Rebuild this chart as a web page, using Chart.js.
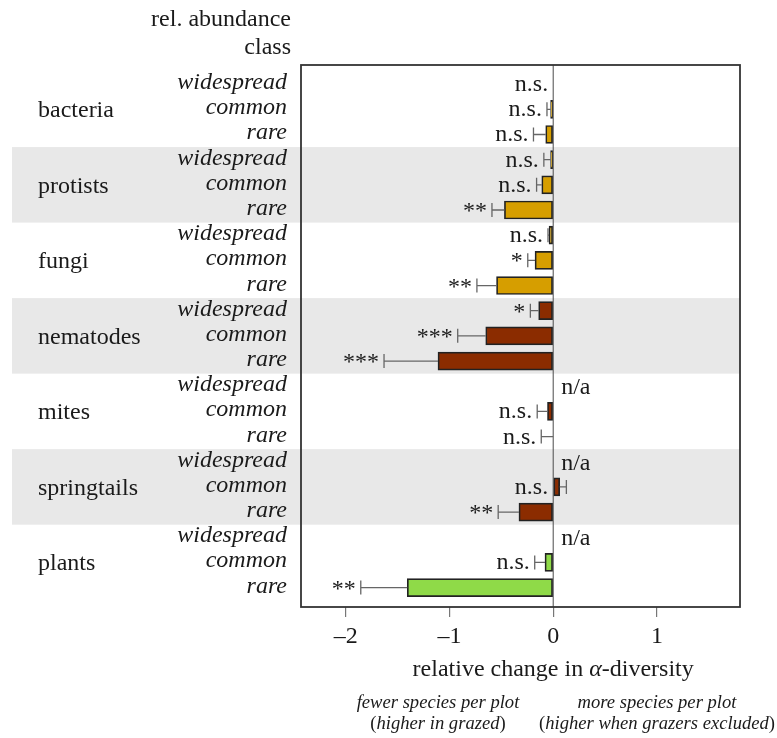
<!DOCTYPE html>
<html>
<head>
<meta charset="utf-8">
<script src="https://cdn.jsdelivr.net/npm/chart.js@4"></script>
<style>
  html, body { margin: 0; padding: 0; background: #fff; }
  canvas { display: block; }
</style>
</head>
<body>
<canvas id="chart" width="777" height="738"></canvas>
<script>
// группы организмов и классы обилия
const groups = ['bacteria', 'protists', 'fungi', 'nematodes', 'mites', 'springtails', 'plants'];
const classes = ['widespread', 'common', 'rare'];

// относительное изменение альфа-разнообразия (по строкам: группа x класс)
const effect = [0, -0.025, -0.072,
                -0.025, -0.11, -0.47,
                -0.04, -0.175, -0.546,
                -0.14, -0.65, -1.11,
                null, -0.055, 0,
                null, 0.0625, -0.33,
                null, -0.079, -1.406];
// конец планки погрешности
const errEnd = [null, -0.06, -0.19,
                -0.09, -0.16, -0.59,
                -0.05, -0.245, -0.735,
                -0.22, -0.92, -1.63,
                null, -0.154, -0.115,
                null, 0.127, -0.53,
                null, -0.178, -1.854];
const signif = ['n.s.', 'n.s.', 'n.s.',
                'n.s.', 'n.s.', '**',
                'n.s.', '*', '**',
                '*', '***', '***',
                'n/a', 'n.s.', 'n.s.',
                'n/a', 'n.s.', '**',
                'n/a', 'n.s.', '**'];
const groupColors = ['#d69e00', '#d69e00', '#d69e00', '#8b2c00', '#8b2c00', '#8b2c00', '#8fda48'];
const xTicks = [-2, -1, 0, 1];

const SERIF = '"Liberation Serif", "Times New Roman", serif';
const rows = effect.map((v, i) => ({ x: v, y: i }));
const rowColors = effect.map((v, i) => groupColors[Math.floor(i / 3)]);

function drawText(ctx, txt, x, y, font, align) {
    ctx.font = font;
    ctx.textAlign = align || 'left';
    ctx.textBaseline = 'alphabetic';
    ctx.fillText(txt, x, y);
}

// серые полосы, рамка, подписи и планки погрешностей
const decor = {
    id: 'decor',
    beforeDatasetsDraw(chart) {
        const ctx = chart.ctx, a = chart.chartArea;
        const xs = chart.scales.x, ys = chart.scales.y;
        ctx.save();
        ctx.fillStyle = '#e8e8e8';
        [1, 3, 5].forEach(g => {
            const top = ys.getPixelForValue(g * 3 - 0.5);
            const bot = ys.getPixelForValue(g * 3 + 2.5);
            ctx.fillRect(12, top, a.right - 12, bot - top);
        });
        // нулевая линия
        const x0 = xs.getPixelForValue(0);
        ctx.strokeStyle = '#4a4a4a';
        ctx.lineWidth = 1;
        ctx.beginPath();
        ctx.moveTo(x0, a.top);
        ctx.lineTo(x0, a.bottom);
        ctx.stroke();
        ctx.restore();
    },
    afterDatasetsDraw(chart) {
        const ctx = chart.ctx, a = chart.chartArea;
        const xs = chart.scales.x, ys = chart.scales.y;
        ctx.save();
        // планки погрешностей
        ctx.strokeStyle = '#666';
        ctx.lineWidth = 1.3;
        effect.forEach((v, i) => {
            if (v === null || errEnd[i] === null) return;
            const y = ys.getPixelForValue(i);
            const xb = xs.getPixelForValue(v), xe = xs.getPixelForValue(errEnd[i]);
            ctx.beginPath();
            ctx.moveTo(xb, y);
            ctx.lineTo(xe, y);
            ctx.moveTo(xe, y - 7);
            ctx.lineTo(xe, y + 7);
            ctx.stroke();
        });
        // значимость
        ctx.fillStyle = '#1a1a1a';
        signif.forEach((s, i) => {
            const y = ys.getPixelForValue(i);
            if (s === 'n/a') {
                drawText(ctx, s, xs.getPixelForValue(0) + 8, y + 8, '24px ' + SERIF, 'left');
                return;
            }
            const ends = [0];
            if (effect[i] !== null) ends.push(effect[i]);
            if (errEnd[i] !== null) ends.push(errEnd[i]);
            const xl = xs.getPixelForValue(Math.min(...ends)) - 5;
            const dy = s.startsWith('*') ? 8 : 7;
            drawText(ctx, s, xl, y + dy, '24px ' + SERIF, 'right');
        });
        // рамка
        ctx.strokeStyle = '#333';
        ctx.lineWidth = 1.8;
        ctx.strokeRect(a.left, a.top, a.right - a.left, a.bottom - a.top);
        ctx.restore();
    },
    afterDraw(chart) {
        const ctx = chart.ctx;
        const xs = chart.scales.x, ys = chart.scales.y;
        ctx.save();
        ctx.fillStyle = '#1a1a1a';
        drawText(ctx, 'rel. abundance', 291, 26, '24px ' + SERIF, 'right');
        drawText(ctx, 'class', 291, 54, '24px ' + SERIF, 'right');
        groups.forEach((g, gi) => {
            drawText(ctx, g, 38, ys.getPixelForValue(gi * 3 + 1) + 8, '24px ' + SERIF, 'left');
            classes.forEach((c, ci) => {
                drawText(ctx, c, 287, ys.getPixelForValue(gi * 3 + ci) + 5, 'italic 24px ' + SERIF, 'right');
            });
        });

        // подпись оси: "relative change in α-diversity"
        const cx = xs.getPixelForValue(0);
        const p1 = 'relative change in ', p2 = '\u03b1', p3 = '-diversity';
        ctx.font = '24px ' + SERIF;
        const w1 = ctx.measureText(p1).width, w3 = ctx.measureText(p3).width;
        ctx.font = 'italic 24px ' + SERIF;
        const w2 = ctx.measureText(p2).width;
        let x = cx - (w1 + w2 + w3) / 2;
        drawText(ctx, p1, x, 676, '24px ' + SERIF); x += w1;
        drawText(ctx, p2, x, 676, 'italic 24px ' + SERIF); x += w2;
        drawText(ctx, p3, x, 676, '24px ' + SERIF);

        // пояснения под осью
        const notes = [
            [438, 'fewer species per plot', 'higher in grazed'],
            [657, 'more species per plot', 'higher when grazers excluded']
        ];
        notes.forEach(([nx, line1, line2]) => {
            drawText(ctx, line1, nx, 708, 'italic 18.6px ' + SERIF, 'center');
            ctx.font = '18.6px ' + SERIF;
            const wp = ctx.measureText('(').width, wq = ctx.measureText(')').width;
            ctx.font = 'italic 18.6px ' + SERIF;
            const wm = ctx.measureText(line2).width;
            let lx = nx - (wp + wm + wq) / 2;
            drawText(ctx, '(', lx, 729, '18.6px ' + SERIF); lx += wp;
            drawText(ctx, line2, lx, 729, 'italic 18.6px ' + SERIF); lx += wm;
            drawText(ctx, ')', lx, 729, '18.6px ' + SERIF);
        });
        ctx.restore();
    }
};

new Chart(document.getElementById('chart').getContext('2d'), {
    type: 'bar',
    data: {
        datasets: [{
            data: rows,
            backgroundColor: rowColors,
            borderColor: '#222',
            borderWidth: 1.7,
            borderSkipped: false,
            barThickness: 18
        }]
    },
    options: {
        indexAxis: 'y',
        responsive: false,
        animation: false,
        events: [],
        layout: { padding: { left: 301, top: 65, right: 37, bottom: 91 } },
        scales: {
            x: {
                type: 'linear',
                min: -2.43,
                max: 1.8,
                afterBuildTicks: s => { s.ticks = xTicks.map(v => ({ value: v })); },
                afterFit: s => { s.height = 40; },
                grid: { drawOnChartArea: false, drawTicks: true, tickLength: 10, color: '#777', lineWidth: 1.2 },
                border: { display: false },
                ticks: {
                    color: '#1a1a1a',
                    padding: 5,
                    font: { family: SERIF, size: 24 },
                    callback: v => (v < 0 ? '\u2013' + Math.abs(v) : String(v))
                }
            },
            y: {
                type: 'linear',
                display: false,
                offset: false,
                min: -0.76,
                max: 20.77,
                reverse: true
            }
        },
        plugins: { legend: { display: false }, tooltip: { enabled: false } }
    },
    plugins: [decor]
});
</script>
</body>
</html>
